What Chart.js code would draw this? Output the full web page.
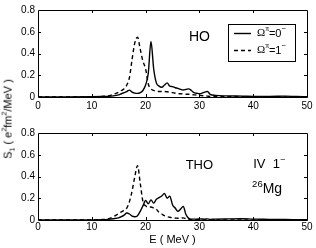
<!DOCTYPE html>
<html><head><meta charset="utf-8">
<script src="https://cdn.jsdelivr.net/npm/chart.js@4/dist/chart.umd.min.js"></script>
<style>
html,body{margin:0;padding:0;background:#fff;}
body{width:316px;height:248px;position:relative;overflow:hidden;font-family:"Liberation Sans",Arial,sans-serif;}
#top{position:absolute;left:0;top:0;width:316px;height:114px;}
#bot{position:absolute;left:0;top:120px;width:316px;height:128px;}
#ytitle{position:absolute;left:8px;top:119px;transform:translate(-50%,-50%) rotate(-90deg);white-space:nowrap;font-size:11px;color:#000;line-height:1;}
#ytitle sup,#ytitle sub{font-size:7px;}
</style></head>
<body>
<div id="top"><canvas id="c1"></canvas></div>
<div id="bot"><canvas id="c2"></canvas></div>
<div id="ytitle">S<sub>1</sub> ( e<sup>2</sup>fm<sup>2</sup>/MeV )</div>
<script>
const energy    = [0,5,10,12,13,14,15,15.5,16,16.5,17,17.5,18,18.5,19,19.5,20,20.5,21,21.5,22,22.5,23,23.5,24,24.5,25,25.5,26,26.5,27,27.5,28,28.5,29,29.5,30,31,31.5,32,33,35,38,40,43,46,48,50];
const hoOmega0  = [0,0,0.002,0.004,0.006,0.01,0.02,0.03,0.04,0.05,0.063,0.045,0.035,0.033,0.04,0.06,0.11,0.22,0.51,0.26,0.13,0.1,0.09,0.11,0.13,0.1,0.095,0.085,0.08,0.07,0.065,0.07,0.075,0.06,0.04,0.035,0.03,0.045,0.05,0.025,0.015,0.01,0.008,0.006,0.005,0.008,0.004,0.003];
const hoOmega1  = [0,0,0.002,0.006,0.01,0.025,0.045,0.06,0.075,0.11,0.18,0.35,0.5,0.55,0.44,0.33,0.26,0.12,0.075,0.06,0.055,0.05,0.05,0.05,0.048,0.045,0.04,0.035,0.03,0.03,0.028,0.025,0.025,0.022,0.02,0.018,0.015,0.01,0.008,0.006,0.004,0.003,0.002,0.001,0,0,0,0];
const thoOmega0 = [0,0,0.001,0.003,0.006,0.012,0.02,0.03,0.045,0.065,0.055,0.035,0.03,0.04,0.08,0.13,0.18,0.15,0.185,0.155,0.19,0.205,0.22,0.245,0.2,0.22,0.14,0.11,0.08,0.1,0.125,0.05,0.015,0.008,0.008,0.008,0.01,0.008,0.01,0.006,0.008,0.01,0.012,0.008,0.006,0.004,0.003,0.002];
const thoOmega1 = [0,0,0.001,0.004,0.01,0.03,0.06,0.075,0.09,0.11,0.17,0.27,0.4,0.5,0.34,0.17,0.13,0.12,0.12,0.11,0.1,0.07,0.055,0.04,0.03,0.025,0.02,0.018,0.016,0.016,0.02,0.012,0.005,0.003,0.002,0.002,0.002,0.001,0.001,0,0,0,0,0,0,0,0,0];
const xTicks = [0,10,20,30,40,50];
const yTicks = [0,0.2,0.4,0.6,0.8];
const legendLabels = ['0\u207B','1\u207B'];

const SANS = '"Liberation Sans", Arial, sans-serif';
const SERIF = '"Liberation Serif", "Times New Roman", serif';

function drawRich(ctx, x, y, segs, size, align) {
  let total = 0;
  const parts = segs.map(s => {
    const fs = s.sup ? size * 0.68 : size;
    const font = fs + 'px ' + (s.serif ? SERIF : SANS);
    ctx.font = font;
    const w = ctx.measureText(s.t).width;
    total += w;
    return {t: s.t, font, w, dy: s.sup ? -size * 0.38 : 0};
  });
  let cx = align === 'center' ? x - total / 2 : x;
  ctx.textBaseline = 'middle';
  ctx.textAlign = 'left';
  parts.forEach(p => { ctx.font = p.font; ctx.fillText(p.t, cx, y + p.dy); cx += p.w; });
}

const framePlugin = {
  id: 'frame',
  afterDatasetsDraw(chart, args, opts) {
    const {ctx, chartArea: a, scales: {x, y}} = chart;
    ctx.save();
    ctx.strokeStyle = '#000';
    ctx.lineWidth = 1;
    ctx.beginPath();
    ctx.rect(Math.round(a.left) + 0.5, Math.round(a.top) + 0.5, Math.round(a.right - a.left), Math.round(a.bottom - a.top));
    ctx.stroke();
    const tl = 3;
    ctx.beginPath();
    x.ticks.forEach(t => {
      if (t.value === x.min || t.value === x.max) return;
      const px = Math.round(x.getPixelForValue(t.value)) + 0.5;
      ctx.moveTo(px, a.bottom); ctx.lineTo(px, a.bottom - tl);
      ctx.moveTo(px, a.top); ctx.lineTo(px, a.top + tl);
    });
    y.ticks.forEach(t => {
      if (t.value === y.min || t.value === y.max) return;
      const py = Math.round(y.getPixelForValue(t.value)) + 0.5;
      ctx.moveTo(a.left, py); ctx.lineTo(a.left + tl, py);
      ctx.moveTo(a.right, py); ctx.lineTo(a.right - tl, py);
    });
    ctx.stroke();
    ctx.fillStyle = '#000';
    (opts.notes || []).forEach(n => {
      drawRich(ctx, x.getPixelForValue(n.x), y.getPixelForValue(n.y), n.segs, n.size, n.align);
    });
    if (opts.legend) {
      const L = {x: a.right - 79, y: a.top + 14, w: 67, h: 37};
      ctx.fillStyle = '#fff';
      ctx.fillRect(L.x, L.y, L.w, L.h);
      ctx.strokeStyle = '#000';
      ctx.lineWidth = 1;
      ctx.strokeRect(L.x + 0.5, L.y + 0.5, L.w, L.h);
      chart.data.datasets.forEach((ds, i) => {
        const ly = L.y + 9.5 + i * 17;
        ctx.beginPath();
        ctx.lineWidth = 1.4;
        ctx.setLineDash(ds.borderDash || []);
        ctx.moveTo(L.x + 6, ly); ctx.lineTo(L.x + 23, ly);
        ctx.stroke();
        ctx.setLineDash([]);
        ctx.fillStyle = '#000';
        drawRich(ctx, L.x + 29, ly, [
          {t: '\u03A9', serif: true}, {t: '\u03C0', serif: true, sup: true},
          {t: '=' + legendLabels[i].charAt(0)}, {t: '\u2212', sup: true}
        ], 11, 'left');
      });
    }
    ctx.restore();
  }
};

function makeChart(id, solid, dashed, cfg) {
  const pts = arr => energy.map((e, i) => ({x: e, y: arr[i]}));
  return new Chart(document.getElementById(id), {
    type: 'line',
    data: {datasets: [
      {label: 'Ωπ=0-', data: pts(solid), borderColor: '#000', borderWidth: 1.4, pointRadius: 0, cubicInterpolationMode: 'monotone', fill: false},
      {label: 'Ωπ=1-', data: pts(dashed), borderColor: '#000', borderWidth: 1.4, borderDash: [4, 3], pointRadius: 0, cubicInterpolationMode: 'monotone', fill: false}
    ]},
    options: {
      responsive: true, maintainAspectRatio: false, animation: false,
      layout: {padding: {left: 0, right: 9, top: cfg.padTop, bottom: 0}},
      plugins: {legend: {display: false}, tooltip: {enabled: false}, frame: {notes: cfg.notes, legend: cfg.legend}},
      scales: {
        x: {
          type: 'linear', min: 0, max: 50,
          afterBuildTicks: s => { s.ticks = xTicks.map(v => ({value: v})); },
          ticks: {color: '#000', font: {family: SANS, size: 10}, padding: cfg.xPad, maxRotation: 0, autoSkip: false, callback: v => String(v)},
          grid: {display: false, drawTicks: false}, border: {display: false},
          title: cfg.xTitle ? {display: true, text: 'E ( MeV )', color: '#000', font: {family: SANS, size: 11}, padding: {top: 0, bottom: 1}} : {display: false},
          afterFit: s => { s.height = cfg.xHeight; }
        },
        y: {
          min: 0, max: 0.8,
          afterBuildTicks: s => { s.ticks = yTicks.map(v => ({value: v})); },
          ticks: {color: '#000', font: {family: SANS, size: 10}, padding: 3, callback: v => v === 0 ? '0' : v.toFixed(1)},
          grid: {display: false, drawTicks: false}, border: {display: false},
          afterFit: s => { s.width = 38; }
        }
      }
    },
    plugins: [framePlugin]
  });
}

makeChart('c1', hoOmega0, hoOmega1, {
  padTop: 10, xPad: 3, xHeight: 17, xTitle: false, legend: true,
  notes: [{segs: [{t: 'HO'}], x: 30, y: 0.55, size: 14, align: 'center'}]
});
makeChart('c2', thoOmega0, thoOmega1, {
  padTop: 13, xPad: 1, xHeight: 28, xTitle: true, legend: false,
  notes: [
    {segs: [{t: 'THO'}], x: 30, y: 0.505, size: 13, align: 'center'},
    {segs: [{t: 'IV  1'}, {t: '\u2212', sup: true}], x: 40.0, y: 0.51, size: 13, align: 'left'},
    {segs: [{t: '26', sup: true}, {t: 'Mg'}], x: 39.8, y: 0.28, size: 14, align: 'left'}
  ]
});
</script>
</body></html>
